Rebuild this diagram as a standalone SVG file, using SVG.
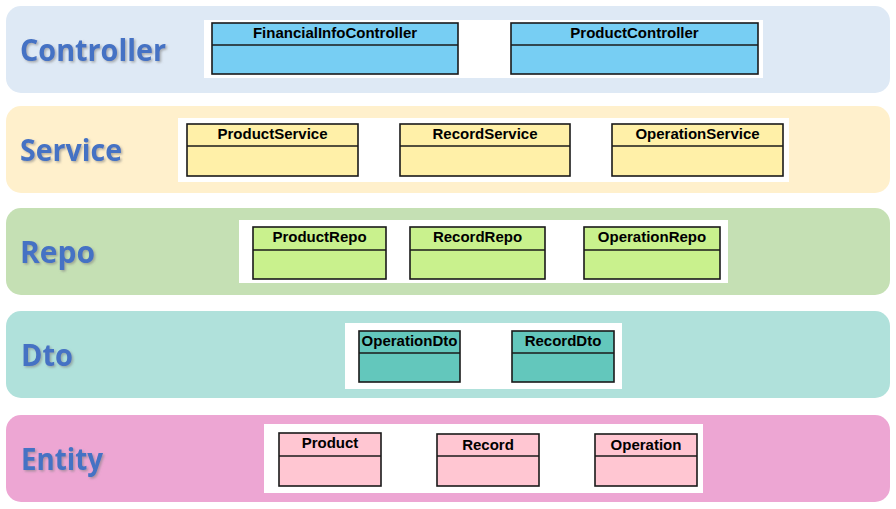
<svg xmlns="http://www.w3.org/2000/svg" width="896" height="509" viewBox="0 0 896 509">
<defs>
<filter id="sh" x="-10%" y="-20%" width="130%" height="150%">
<feDropShadow dx="1.5" dy="1.5" stdDeviation="1" flood-color="#7f7f7f" flood-opacity="0.6"/>
</filter>
</defs>
<style>
.band{stroke:none}
.lbl{font-family:"Open Sans","Noto Sans",sans-serif;font-weight:bold;font-size:30px;fill:#4472C4;filter:url(#sh)}
.panel{fill:#ffffff}
.box{stroke:#1a1a1a;stroke-width:1.6}
.div{stroke:#1a1a1a;stroke-width:1.4}
.nm{font-family:"Liberation Sans",Arial,sans-serif;font-weight:bold;font-size:15px;fill:#000;text-anchor:middle}
.c{fill:#77CEF3}.s{fill:#FFF0A8}.r{fill:#C9F18D}.d{fill:#63C7BC}.e{fill:#FFC6D2}
</style>
<rect width="896" height="509" fill="#ffffff"/>
<g id="layer-controller">
<rect class="band" x="6" y="6" width="884" height="87" rx="15" fill="#DEE9F5"/>
<text class="lbl" x="20" y="61" textLength="146" lengthAdjust="spacingAndGlyphs">Controller</text>
<rect class="panel" x="204" y="20" width="559" height="58"/>
</g>
<g id="layer-service">
<rect class="band" x="6" y="106" width="884" height="87" rx="15" fill="#FFF0CC"/>
<text class="lbl" x="20" y="161" textLength="102" lengthAdjust="spacingAndGlyphs">Service</text>
<rect class="panel" x="178" y="118" width="611" height="64"/>
</g>
<g id="layer-repo">
<rect class="band" x="6" y="208" width="884" height="87" rx="15" fill="#C5E0B4"/>
<text class="lbl" x="20" y="263" textLength="75" lengthAdjust="spacingAndGlyphs">Repo</text>
<rect class="panel" x="239" y="220" width="489" height="63"/>
</g>
<g id="layer-dto">
<rect class="band" x="6" y="311" width="884" height="87" rx="15" fill="#B0E1DB"/>
<text class="lbl" x="21" y="366" textLength="52" lengthAdjust="spacingAndGlyphs">Dto</text>
<rect class="panel" x="345" y="323" width="277" height="66"/>
</g>
<g id="layer-entity">
<rect class="band" x="6" y="415" width="884" height="87" rx="15" fill="#EDA6D3"/>
<text class="lbl" x="21" y="470" textLength="82" lengthAdjust="spacingAndGlyphs">Entity</text>
<rect class="panel" x="264" y="424" width="439" height="69"/>
</g>
<g id="FinancialInfoController">
<rect class="box c" x="212" y="23" width="246" height="51"/>
<line class="div" x1="212" y1="45" x2="458" y2="45"/>
<text class="nm" x="335" y="38">FinancialInfoController</text>
</g>
<g id="ProductController">
<rect class="box c" x="511" y="23" width="247" height="51"/>
<line class="div" x1="511" y1="45" x2="758" y2="45"/>
<text class="nm" x="634.5" y="38">ProductController</text>
</g>
<g id="ProductService">
<rect class="box s" x="187" y="124" width="171" height="52"/>
<line class="div" x1="187" y1="146" x2="358" y2="146"/>
<text class="nm" x="272.5" y="139">ProductService</text>
</g>
<g id="RecordService">
<rect class="box s" x="400" y="124" width="170" height="52"/>
<line class="div" x1="400" y1="146" x2="570" y2="146"/>
<text class="nm" x="485" y="139">RecordService</text>
</g>
<g id="OperationService">
<rect class="box s" x="612" y="124" width="171" height="52"/>
<line class="div" x1="612" y1="146" x2="783" y2="146"/>
<text class="nm" x="697.5" y="139">OperationService</text>
</g>
<g id="ProductRepo">
<rect class="box r" x="253" y="227" width="133" height="52"/>
<line class="div" x1="253" y1="250" x2="386" y2="250"/>
<text class="nm" x="319.5" y="242">ProductRepo</text>
</g>
<g id="RecordRepo">
<rect class="box r" x="410" y="227" width="135" height="52"/>
<line class="div" x1="410" y1="250" x2="545" y2="250"/>
<text class="nm" x="477.5" y="242">RecordRepo</text>
</g>
<g id="OperationRepo">
<rect class="box r" x="584" y="227" width="136" height="52"/>
<line class="div" x1="584" y1="250" x2="720" y2="250"/>
<text class="nm" x="652" y="242">OperationRepo</text>
</g>
<g id="OperationDto">
<rect class="box d" x="359" y="331" width="101" height="51"/>
<line class="div" x1="359" y1="353" x2="460" y2="353"/>
<text class="nm" x="409.5" y="346">OperationDto</text>
</g>
<g id="RecordDto">
<rect class="box d" x="512" y="331" width="102" height="51"/>
<line class="div" x1="512" y1="353" x2="614" y2="353"/>
<text class="nm" x="563" y="346">RecordDto</text>
</g>
<g id="Product">
<rect class="box e" x="279" y="433" width="102" height="53"/>
<line class="div" x1="279" y1="456" x2="381" y2="456"/>
<text class="nm" x="330" y="448">Product</text>
</g>
<g id="Record">
<rect class="box e" x="437" y="434" width="102" height="52"/>
<line class="div" x1="437" y1="456" x2="539" y2="456"/>
<text class="nm" x="488" y="450">Record</text>
</g>
<g id="Operation">
<rect class="box e" x="595" y="434" width="102" height="52"/>
<line class="div" x1="595" y1="456" x2="697" y2="456"/>
<text class="nm" x="646" y="450">Operation</text>
</g>
<g id="connectors"></g>
</svg>
